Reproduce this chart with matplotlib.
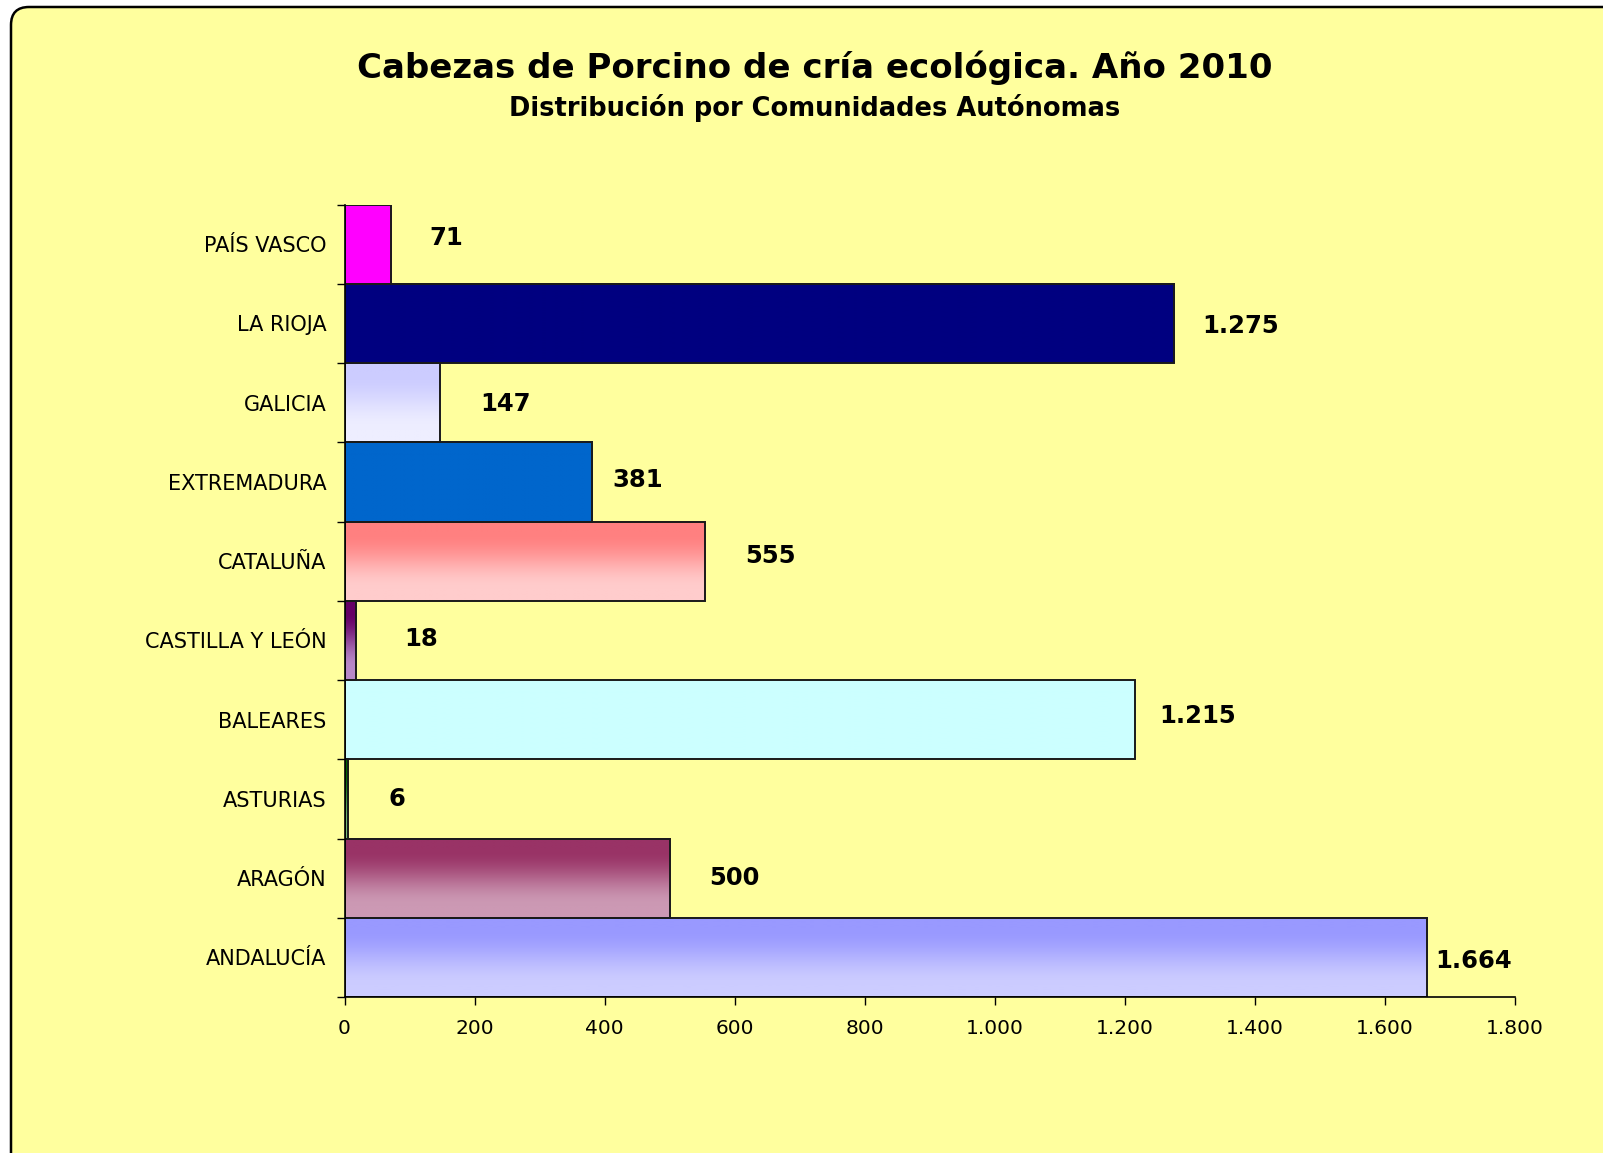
import matplotlib

matplotlib.use("Agg")
import matplotlib.pyplot as plt
import numpy as np
from matplotlib.colors import to_rgb
from matplotlib.patches import FancyBboxPatch, Rectangle
from matplotlib.ticker import FuncFormatter, MultipleLocator
from matplotlib.transforms import IdentityTransform

# the original's Arial is rendered stretched wide; DejaVu Sans is the closest fit
plt.rcParams["font.family"] = ["DejaVu Sans"]

# data, bottom to top as drawn
regions = ["ANDALUCÍA", "ARAGÓN", "ASTURIAS", "BALEARES", "CASTILLA Y LEÓN",
           "CATALUÑA", "EXTREMADURA", "GALICIA", "LA RIOJA", "PAÍS VASCO"]
heads = [1664, 500, 6, 1215, 18, 555, 381, 147, 1275, 71]

# (top colour, bottom colour) for each bar; equal pair = flat fill
fills = [("#9999FF", "#CCCCFF"), ("#993366", "#CC99B4"), ("#006600", "#77BB77"),
         ("#CCFFFF", "#CCFFFF"), ("#660066", "#B888C8"), ("#FF8080", "#FFCCCC"),
         ("#0066CC", "#0066CC"), ("#CCCCFF", "#EEEEFF"), ("#000080", "#000080"),
         ("#FF00FF", "#FF00FF")]
# where Excel left each value label: gap after bar end, vertical nudge (px, + = down)
label_dx = [9, 40, 40, 25, 48, 40, 20, 40, 29, 39]
label_dy = [4, 0, 0, -4, -1, -5, -2, 1, 3, -6]

W, H, DPI = 1603, 1153, 100
BG = "#FFFF9E"

fig = plt.figure(figsize=(W / DPI, H / DPI), dpi=DPI, facecolor="white")
# rounded chart-area frame, running off the right and bottom edges (display px, origin bottom-left)
frame = FancyBboxPatch((11, -40), W + 40, H - 7 + 40, boxstyle="round,pad=0,rounding_size=18",
                       transform=IdentityTransform(), facecolor=BG, edgecolor="black",
                       lw=1.8, zorder=-1)
fig.patches.append(frame)

ax = fig.add_axes([344.5 / W, 1 - 997 / H, (1515 - 344.5) / W, (997 - 204.5) / H])
ax.set_facecolor("none")


def gradient(top, bottom, n=64):
    t = np.linspace(0, 1, n)
    t = np.clip((t - 0.15) / 0.7, 0, 1)
    t = t * t * (3 - 2 * t)
    c0, c1 = np.array(to_rgb(top)), np.array(to_rgb(bottom))
    return (c0[None, :] * (1 - t[:, None]) + c1[None, :] * t[:, None])[:, None, :]


for i, (v, (ctop, cbot)) in enumerate(zip(heads, fills)):
    y0, y1 = i - 0.5, i + 0.5
    ax.imshow(gradient(ctop, cbot), extent=[0, v, y0, y1], aspect="auto",
              interpolation="bilinear", zorder=2)
    ax.add_patch(Rectangle((0, y0), v, 1, facecolor="none", edgecolor="#1a1a1a",
                           lw=1.4, zorder=3))
    ax.annotate(f"{v:,}".replace(",", "."), (v, i),
                xytext=(label_dx[i] * 0.72, -label_dy[i] * 0.72),
                textcoords="offset points", ha="left", va="center",
                fontsize=17.5, fontweight="bold", zorder=4)

ax.set_xlim(0, 1800)
ax.set_ylim(-0.5, len(regions) - 0.5)
ax.xaxis.set_major_locator(MultipleLocator(200))
ax.xaxis.set_major_formatter(FuncFormatter(lambda x, _: f"{int(x):,}".replace(",", ".")))
ax.set_yticks(range(len(regions)))
ax.set_yticklabels(regions)
ax.set_yticks(np.arange(-0.5, len(regions)), minor=True)
ax.tick_params(axis="y", which="major", length=0, pad=13, labelsize=15)
ax.tick_params(axis="y", which="minor", length=6, width=1, direction="out")
ax.tick_params(axis="x", length=6, width=1, direction="out", pad=10, labelsize=14.5)
for s in ("top", "right"):
    ax.spines[s].set_visible(False)
for s in ("left", "bottom"):
    ax.spines[s].set_linewidth(1.2)
    ax.spines[s].set_zorder(5)

fig.text(815 / W, 1 - 67.5 / H, "Cabezas de Porcino de cría ecológica. Año 2010",
         ha="center", va="center", fontsize=24.5, fontweight="bold")
fig.text(815 / W, 1 - 108 / H, "Distribución por Comunidades Autónomas",
         ha="center", va="center", fontsize=18.5, fontweight="bold")

fig.savefig("out.png", dpi=DPI, facecolor="white")
